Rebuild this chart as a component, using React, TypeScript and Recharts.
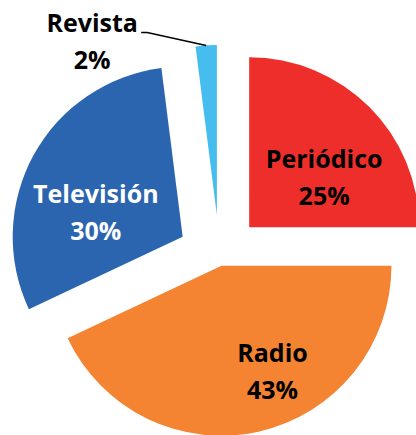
import { PieChart, Pie, Cell } from 'recharts';

const categories = ['Periódico', 'Radio', 'Televisión', 'Revista'];
const shares = [25, 43, 30, 2];

const colors = ['#EE2E2B', '#F48432', '#2B65AF', '#45BDEE'];
const labelColors = ['#000', '#000', '#fff', '#000'];
// how far each slice is pulled out of the pie, px
const explode = [42, 9, 42, 42];
// label placement inside each slice: angle shift (deg, clockwise) and radius fraction
const labelShift = [11.8, -13, -13.4, 0];
const labelFrac = [0.527, 0.695, 0.53, 1];

const W = 416;
const H = 435;
const CX = 219.5;
const CY = 257;
const R = 170;
const RAD = Math.PI / 180;
const FONT = { fontFamily: '"Open Sans", sans-serif', fontWeight: 700, fontSize: 25 };

const data = categories.map((name, i) => ({ name, value: shares[i] }));
const total = shares.reduce((a, b) => a + b, 0);

// mid angle of each slice, degrees clockwise from 12 o'clock
const midAngles = shares.map((v, i) => {
  const before = shares.slice(0, i).reduce((a, b) => a + b, 0);
  return ((before + v / 2) / total) * 360;
});
const centers = midAngles.map((a, i) => ({
  x: CX + explode[i] * Math.sin(a * RAD),
  y: CY - explode[i] * Math.cos(a * RAD),
}));

const renderLabel = (k: number) => (props: any) => {
  if (props.index !== k) return null;
  const { cx, cy, midAngle, outerRadius, percent, name } = props;
  const pct = `${Math.round(percent * 100)}%`;
  if (percent < 0.05) {
    const ax = cx + outerRadius * Math.cos(-midAngle * RAD);
    const ay = cy + outerRadius * Math.sin(-midAngle * RAD);
    const ex = ax - 59;
    const ey = ay - 13;
    const tx = ex - 55;
    return (
      <g>
        <polyline points={`${ax},${ay} ${ex},${ey} ${ex - 6},${ey}`} stroke="#000" strokeWidth={1.5} fill="none" />
        <text textAnchor="middle" fill={labelColors[k]} {...FONT}>
          <tspan x={tx} y={ey}>{name}</tspan>
          <tspan x={tx} y={ey + 37}>{pct}</tspan>
        </text>
      </g>
    );
  }
  const a = midAngle - labelShift[k];
  const r = outerRadius * labelFrac[k];
  const x = cx + r * Math.cos(-a * RAD);
  const y = cy + r * Math.sin(-a * RAD);
  return (
    <text textAnchor="middle" fill={labelColors[k]} {...FONT}>
      <tspan x={x} y={y - 10}>{name}</tspan>
      <tspan x={x} y={y + 27}>{pct}</tspan>
    </text>
  );
};

export default function App() {
  return (
    <div style={{ position: 'absolute', left: 0, top: 0, background: '#fff' }}>
      <PieChart width={W} height={H} margin={{ top: 0, right: 0, bottom: 0, left: 0 }}>
        {centers.map((c, k) => (
          <Pie
            key={categories[k]}
            data={data}
            dataKey="value"
            nameKey="name"
            cx={c.x}
            cy={c.y}
            outerRadius={R}
            startAngle={90}
            endAngle={-270}
            stroke="none"
            label={renderLabel(k)}
            labelLine={false}
            isAnimationActive={false}
          >
            {data.map((d, i) => (
              <Cell key={d.name} fill={i === k ? colors[i] : 'transparent'} />
            ))}
          </Pie>
        ))}
      </PieChart>
    </div>
  );
}
